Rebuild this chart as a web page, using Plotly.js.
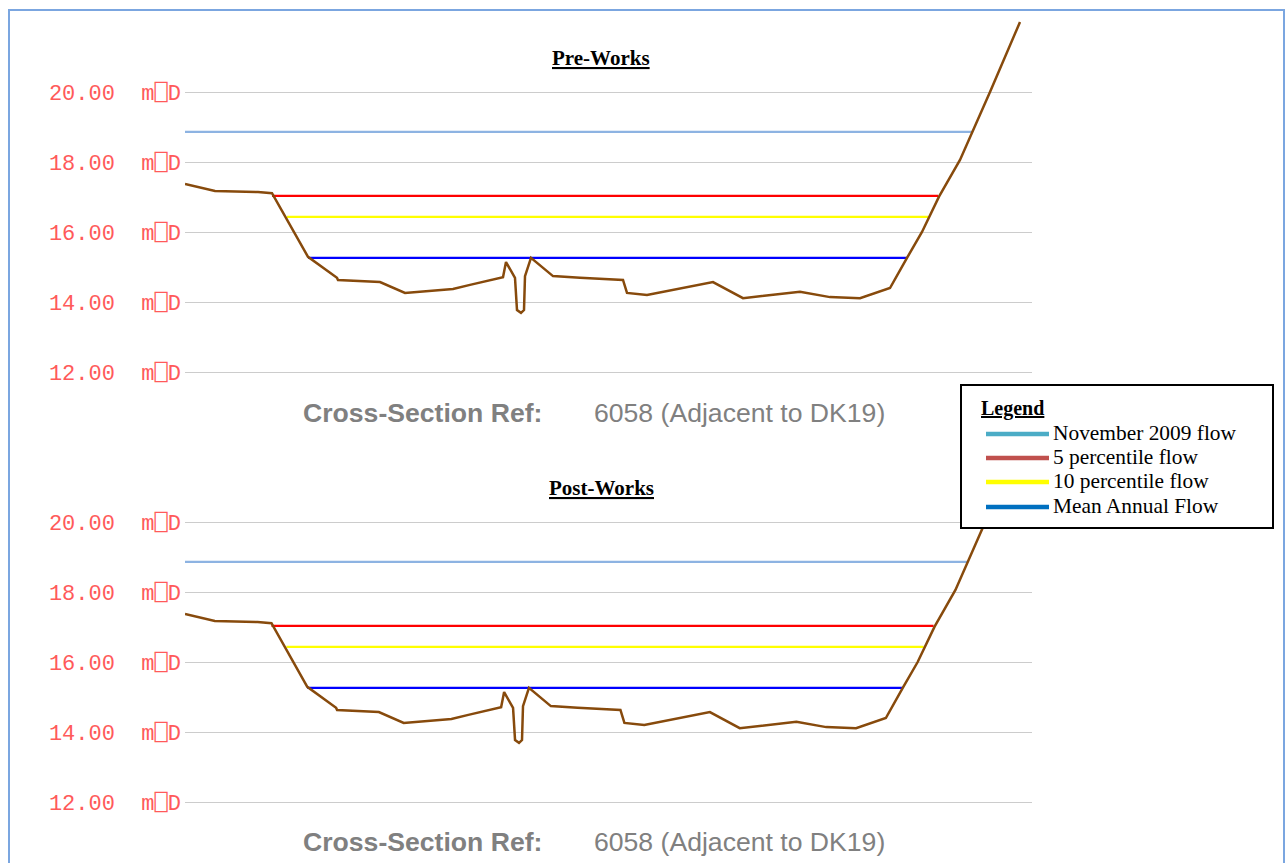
<!DOCTYPE html>
<html>
<head>
<meta charset="utf-8">
<script src="https://cdn.plot.ly/plotly-3.0.1.min.js"></script>
<style>html,body{margin:0;padding:0;background:#fff;}#chart{width:1288px;height:863px;}</style>
</head>
<body>
<div id="chart"></div>
<script>
// ---- Data (chainage in m, levels in mOD) ----
const chainage = [0.5, 3.5, 7.8, 9.2, 12.8, 15.7, 15.8, 20.0, 22.5, 27.3, 29.0, 32.3, 32.6, 33.5, 33.7, 34.1, 34.4, 34.5, 35.1, 37.3, 40.0, 42.0, 44.3, 44.7, 46.7, 53.3, 56.3, 62.0, 65.0, 68.0, 71.0, 72.7, 74.2, 75.9, 78.0, 81.0, 84.0];
const bedLevel = [17.37, 17.17, 17.14, 17.11, 15.29, 14.69, 14.63, 14.57, 14.26, 14.37, 14.49, 14.71, 15.14, 14.69, 13.77, 13.69, 13.77, 14.74, 15.26, 14.74, 14.69, 14.66, 14.63, 14.26, 14.20, 14.57, 14.11, 14.29, 14.14, 14.11, 14.40, 15.26, 16.00, 17.01, 18.06, 20.00, 22.00];

const levelNames = ["November 2009 flow", "5 percentile flow", "10 percentile flow", "Mean Annual Flow"];
const levelValues = [18.86, 17.03, 16.43, 15.26];
const levelStart = [0.0, 9.2, 10.7, 12.8];
const levelEnd = [79.2, 75.8, 74.8, 72.7];
const levelColors = ["#8db3e2", "#ff0000", "#ffff00", "#0000ff"];
const legendColors = ["#4bacc6", "#c0504d", "#ffff00", "#0070c0"];

const panelTitles = ["Pre-Works", "Post-Works"];
const sectionLabel = "Cross-Section Ref:";
const sectionValue = "6058 (Adjacent to DK19)";
const yTicks = [12, 14, 16, 18, 20];
const yTickText = ["12.00\u00A0\u00A0m\u2395D", "14.00\u00A0\u00A0m\u2395D", "16.00\u00A0\u00A0m\u2395D", "18.00\u00A0\u00A0m\u2395D", "20.00\u00A0\u00A0m\u2395D"];

// ---- Layout helpers ----
const W = 1288, H = 863;
const px = x => x / W;
const py = y => 1 - y / H;

const traces = [];
[["x", "y"], ["x2", "y2"]].forEach(([xa, ya]) => {
  levelNames.forEach((name, i) => {
    traces.push({
      x: [levelStart[i], levelEnd[i]], y: [levelValues[i], levelValues[i]],
      xaxis: xa, yaxis: ya, mode: "lines", name: name, showlegend: false,
      line: {color: levelColors[i], width: 2.2}, hoverinfo: "skip"
    });
  });
  traces.push({
    x: chainage, y: bedLevel, xaxis: xa, yaxis: ya, mode: "lines",
    name: "Bed", showlegend: false,
    line: {color: "#874a0c", width: 2.5}, hoverinfo: "skip"
  });
});

const yCommon = {
  range: [11.486, 22.057], tickmode: "array", tickvals: yTicks, ticktext: yTickText,
  showgrid: true, gridcolor: "#cccccc", gridwidth: 1, zeroline: false, showline: false,
  ticks: "", ticklabelstandoff: 3,
  tickfont: {family: "Liberation Mono, DejaVu Sans Mono, monospace", size: 22, color: "#ff5a5a"},
  fixedrange: true
};
const xCommon = {showgrid: false, zeroline: false, showline: false, showticklabels: false, ticks: "", fixedrange: true};

const annotations = [];
const titleY = [58, 488];
const sectY = [413, 842];
[0, 1].forEach(k => {
  annotations.push({
    xref: "paper", yref: "paper", x: px(601), y: py(titleY[k]), xanchor: "center", yanchor: "middle",
    text: "<b><u>" + panelTitles[k] + "</u></b>", showarrow: false,
    font: {family: "Liberation Serif, Times New Roman, serif", size: 21, color: "#000"}
  });
  annotations.push({
    xref: "paper", yref: "paper", x: px(544), y: py(sectY[k]), xanchor: "right", yanchor: "middle",
    text: "<b>" + sectionLabel + "</b>", showarrow: false,
    font: {family: "Liberation Sans, Arial, sans-serif", size: 26.6, color: "#808080"}
  });
  annotations.push({
    xref: "paper", yref: "paper", x: px(592), y: py(sectY[k]), xanchor: "left", yanchor: "middle",
    text: sectionValue, showarrow: false,
    font: {family: "Liberation Sans, Arial, sans-serif", size: 26.6, color: "#808080"}
  });
});

// Legend box and outer frame
const shapes = [
  {type: "rect", xref: "paper", yref: "paper", x0: px(9), x1: px(1284), y0: py(10), y1: py(880),
   line: {color: "#7ba6e0", width: 2}, fillcolor: "rgba(0,0,0,0)", layer: "above"},
  {type: "rect", xref: "paper", yref: "paper", x0: px(961), x1: px(1273), y0: py(385), y1: py(528),
   line: {color: "#000000", width: 2}, fillcolor: "#ffffff", layer: "above"}
];
annotations.push({
  xref: "paper", yref: "paper", x: px(979), y: py(408), xanchor: "left", yanchor: "middle",
  text: "<b><u>Legend</u></b>", showarrow: false,
  font: {family: "Liberation Serif, Times New Roman, serif", size: 20, color: "#000"}
});
const rowY = [434, 458, 482, 507];
levelNames.forEach((name, i) => {
  shapes.push({type: "line", xref: "paper", yref: "paper", x0: px(986), x1: px(1049), y0: py(rowY[i]), y1: py(rowY[i]),
    line: {color: legendColors[i], width: 4.5}, layer: "above"});
  annotations.push({
    xref: "paper", yref: "paper", x: px(1051), y: py(rowY[i] - 1), xanchor: "left", yanchor: "middle",
    text: name, showarrow: false,
    font: {family: "Liberation Serif, Times New Roman, serif", size: 21.4, color: "#000"}
  });
});

const layout = {
  width: W, height: H, margin: {l: 0, r: 0, t: 0, b: 0},
  paper_bgcolor: "#ffffff", plot_bgcolor: "#ffffff", showlegend: false,
  xaxis: Object.assign({}, xCommon, {domain: [px(185), px(1032)], range: [0.5, 85.2], anchor: "y"}),
  yaxis: Object.assign({}, yCommon, {domain: [py(390), py(20)], anchor: "x"}),
  xaxis2: Object.assign({}, xCommon, {domain: [px(185), px(1032)], range: [0.5, 85.7], anchor: "y2"}),
  yaxis2: Object.assign({}, yCommon, {domain: [py(820), py(450)], anchor: "x2"}),
  annotations: annotations, shapes: shapes
};

Plotly.newPlot("chart", traces, layout, {displayModeBar: false, staticPlot: true});
</script>
</body>
</html>
